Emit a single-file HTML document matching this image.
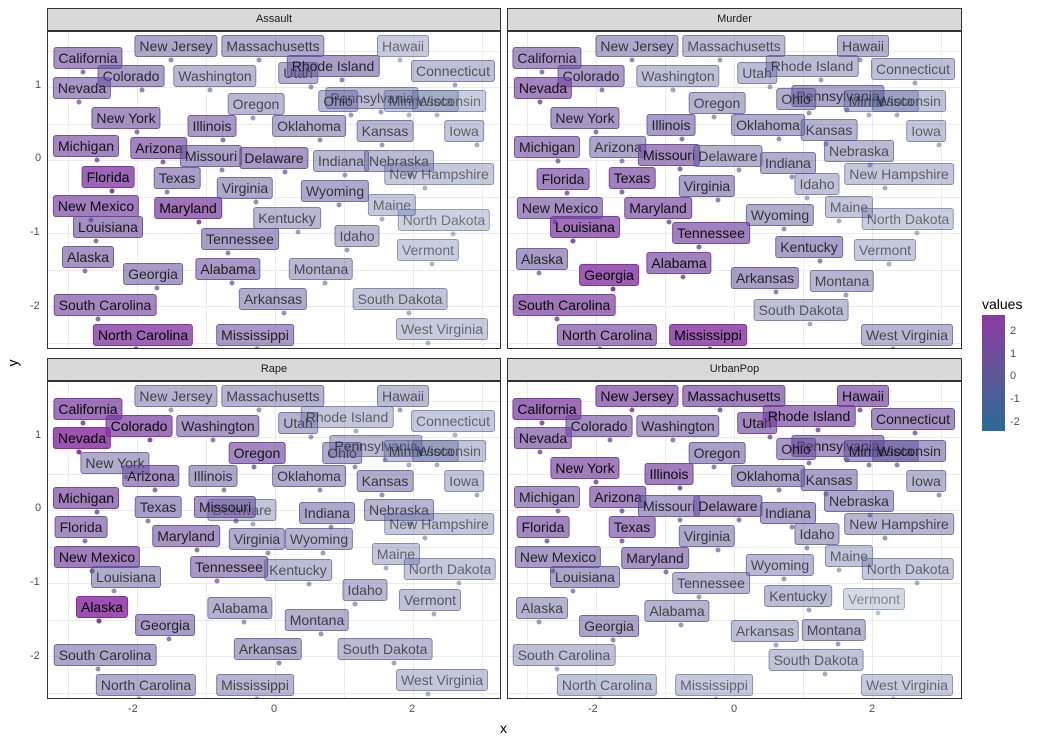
<!DOCTYPE html>
<html><head><meta charset="utf-8"><style>
body{margin:0;width:1038px;height:740px;background:#fff;position:relative;overflow:hidden;font-family:"Liberation Sans",sans-serif}
.p{position:absolute;border:1px solid #333;background:#fff;overflow:hidden}
.s{position:absolute;background:#d9d9d9;border:1px solid #333;font-size:11px;text-align:center;line-height:21px;color:#1a1a1a}
.l{position:absolute;height:20px;line-height:20px;font-size:14px;padding:0 4px;border-radius:3px;white-space:nowrap;transform:translate(-50%,-50%)}
.t{position:absolute;font-size:11px;color:#4d4d4d}
.g{position:absolute;background:#ebebeb}
.dot{position:absolute;width:5px;height:5px;border-radius:50%;transform:translate(-50%,-50%)}
</style></head><body>
<div id="root"></div>
<script>
const P=[
 {x:47,y:31,w:452,h:316,st:8,name:"Assault",d:[
 ["New Jersey",175,45,0],["Massachusetts",272,45,-0.3],["Hawaii",402,45,-1.5],["California",87,57,0.7],["Utah",297,72,-0.4],["Rhode Island",332,65,0.3],["Connecticut",452,70,-1],["Colorado",130,75,0.3],["Washington",214,75,-0.7],["Nevada",81,87,0.5],["Pennsylvania",371,97,-0.8],["Oregon",255,103,-0.7],["Ohio",337,100,-0.7],["Minnesota",420,100,-1.5],["Wisconsin",448,100,-1.6],["New York",125,117,0.7],["Illinois",211,125,0.5],["Oklahoma",308,125,-0.2],["Kansas",384,130,-0.6],["Iowa",463,130,-1.3],["Michigan",85,145,1.0],["Arizona",158,147,1.1],["Missouri",210,155,0.2],["Delaware",273,157,0.5],["Indiana",340,160,-0.7],["Nebraska",398,160,-0.8],["Florida",107,176,2],["Texas",176,177,0.3],["New Hampshire",438,173,-1.4],["Virginia",244,187,-0.1],["Wyoming",334,190,-0.1],["New Mexico",95,205,1.3],["Maryland",187,207,1.6],["Maine",391,204,-1.4],["North Dakota",443,219,-1.8],["Kentucky",286,217,-0.7],["Louisiana",107,226,0.8],["Idaho",356,235,-0.8],["Tennessee",239,238,0.3],["Vermont",427,249,-1.6],["Alaska",87,256,0.6],["Alabama",227,268,0.5],["Georgia",152,273,0.4],["Montana",320,268,-0.7],["Arkansas",272,298,-0.2],["South Dakota",399,298,-1.2],["South Carolina",104,304,1.0],["North Carolina",142,334,2],["Mississippi",254,334,0.5],["West Virginia",441,328,-1.5]]},
 {x:507,y:31,w:453,h:316,st:8,name:"Murder",d:[
 ["New Jersey",636,45,-0.1],["Massachusetts",733,45,-0.8],["Hawaii",862,45,-0.5],["California",546,57,0.6],["Utah",756,72,-0.9],["Rhode Island",811,65,-0.8],["Connecticut",912,68,-1],["Colorado",590,75,0.4],["Washington",677,75,-1],["Nevada",542,87,1.1],["Pennsylvania",837,95,0],["Oregon",716,102,-0.5],["Ohio",795,98,-0.3],["Minnesota",880,100,-1.3],["Wisconsin",908,100,-1.2],["New York",584,117,0.5],["Illinois",670,124,0.4],["Oklahoma",767,124,-0.2],["Kansas",828,129,-0.5],["Iowa",925,130,-1.3],["Michigan",546,146,0.8],["Arizona",617,146,0],["Missouri",668,154,0.9],["Delaware",727,155,-0.4],["Indiana",787,162,-0.3],["Nebraska",858,150,-0.8],["Florida",562,178,1.1],["Texas",631,177,1.2],["New Hampshire",898,173,-1.3],["Virginia",706,185,0.2],["Idaho",816,183,-1.1],["Wyoming",779,214,-0.2],["New Mexico",559,207,0.8],["Maryland",657,207,1.1],["Maine",848,206,-1.3],["North Dakota",907,218,-1.6],["Louisiana",584,226,1.7],["Tennessee",710,232,1.2],["Vermont",884,249,-1.4],["Kentucky",808,246,0.2],["Alaska",541,258,0.4],["Alabama",678,262,1.2],["Georgia",608,274,2.2],["Arkansas",764,277,0.3],["Montana",841,280,-0.6],["South Dakota",800,309,-1],["South Carolina",563,304,1.5],["North Carolina",606,334,1.1],["Mississippi",707,334,2.3],["West Virginia",906,334,-0.6]]},
 {x:47,y:381,w:452,h:316,st:358,name:"Rape",d:[
 ["New Jersey",175,395,-0.5],["Massachusetts",272,395,-0.5],["Hawaii",402,395,-0.9],["California",87,408,1.6],["Colorado",138,425,1.6],["Washington",217,425,0.5],["Utah",297,422,-0.5],["Rhode Island",346,416,-1.3],["Connecticut",452,420,-1.4],["Nevada",81,437,2.5],["New York",114,462,-0.2],["Oregon",256,452,1.0],["Ohio",341,452,-0.2],["Pennsylvania",375,445,-0.8],["Minnesota",420,450,-1.1],["Wisconsin",448,450,-1.2],["Arizona",150,475,0.7],["Illinois",212,475,0],["Oklahoma",308,475,-0.2],["Kansas",384,480,-0.2],["Iowa",463,480,-1.2],["Michigan",85,497,1.3],["Texas",157,506,0.3],["Delaware",241,509,-1.2],["Missouri",224,506,0.5],["Indiana",326,512,-0.1],["Nebraska",398,509,-0.6],["New Hampshire",438,523,-1.3],["Florida",80,526,0.8],["Maryland",185,535,0.6],["Virginia",256,538,-0.2],["Wyoming",318,538,-0.5],["Maine",395,553,-1.3],["New Mexico",96,556,1.3],["Tennessee",228,566,0.5],["Kentucky",297,569,-0.9],["North Dakota",449,568,-1.4],["Louisiana",125,576,-0.2],["Idaho",364,589,-0.7],["Alaska",101,606,2.6],["Alabama",239,607,-0.4],["Vermont",429,599,-1.1],["Georgia",164,624,0.4],["Montana",316,619,-0.4],["Arkansas",267,648,-0.2],["South Dakota",384,648,-0.8],["South Carolina",104,654,0],["North Carolina",145,684,-0.3],["Mississippi",254,684,-0.6],["West Virginia",441,679,-1.3]]},
 {x:507,y:381,w:453,h:316,st:358,name:"UrbanPop",d:[
 ["New Jersey",636,395,1.4],["Massachusetts",733,395,1.2],["Hawaii",862,395,1.2],["California",546,408,1.7],["Colorado",598,425,0.8],["Washington",677,425,0.4],["Utah",756,422,1.0],["Rhode Island",808,415,1.2],["Connecticut",912,418,0.8],["Nevada",542,437,1.0],["Oregon",716,452,0.3],["Pennsylvania",837,445,0.6],["Ohio",795,448,0.5],["Minnesota",880,450,0.2],["Wisconsin",908,450,0.2],["New York",584,467,1.3],["Illinois",668,473,1.3],["Oklahoma",767,475,0.2],["Kansas",828,479,0.1],["Iowa",925,480,-0.6],["Michigan",546,496,0.6],["Arizona",617,496,1.0],["Missouri",668,505,0.2],["Delaware",727,505,0.5],["Indiana",787,512,0.1],["Nebraska",858,500,-0.1],["Florida",542,526,1.0],["Texas",631,526,1.0],["New Hampshire",898,523,-0.6],["Virginia",706,535,-0.1],["Idaho",816,533,-0.4],["Wyoming",779,564,-0.7],["Maine",848,555,-1.2],["North Dakota",907,568,-1.4],["New Mexico",557,556,0.4],["Maryland",654,557,0.6],["Louisiana",584,576,0],["Tennessee",710,582,-0.6],["Kentucky",797,595,-0.9],["Vermont",873,598,-2.2],["Alaska",541,607,-0.5],["Alabama",676,610,-0.5],["Georgia",608,625,0.1],["Arkansas",764,630,-1],["Montana",833,629,-0.6],["South Dakota",815,659,-1.2],["South Carolina",563,654,-1],["North Carolina",606,684,-1.2],["Mississippi",713,684,-1.4],["West Virginia",906,684,-1.5]]}
];
function lerp(a,b,t){return a.map((v,i)=>Math.round(v+(b[i]-v)*t))}
function col(v){const lo=[75,105,145],mid=[92,82,150],hi=[135,45,160];
 v=Math.max(-2.5,Math.min(2.6,v));
 return v<0?lerp(mid,lo,-v/2.5):lerp(mid,hi,v/2.5)}
let h="";
const xt=[[-2,135],[0,274],[2,412]],yt=[[1,86],[0,159],[-1,233],[-2,307]];
P.forEach((p,i)=>{
 h+=`<div class="s" style="left:${p.x}px;top:${p.st}px;width:${p.w}px;height:21px">${p.name}</div>`;
 h+=`<div class="p" style="left:${p.x}px;top:${p.y}px;width:${p.w}px;height:${p.h}px">`;
 [-3,-2,-1,0,1,2,3].forEach(v=>{const X=274+v*69-47;h+=`<div class="g" style="left:${X+(i%2?-1:0)}px;top:0;width:${v%2?0.5:1}px;height:316px"></div>`});
 [1.5,1,0.5,0,-0.5,-1,-1.5,-2,-2.5].forEach(v=>{const Y=159-v*73-31;h+=`<div class="g" style="top:${Y}px;left:0;height:${(v*2)%2?0.5:1}px;width:460px"></div>`});
 p.d.forEach(d=>{const c=col(d[3]);const a=Math.max(0.18,Math.min(0.92,0.2+0.62*(d[3]+2.5)/5));
  const ta=Math.max(0.3,Math.min(1,0.35+0.6*(d[3]+2.5)/4));
  h+=`<div class="dot" style="left:${d[1]-p.x+((d[0].length*7)%30-15)}px;top:${d[2]-p.y+14}px;background:rgba(${c},${Math.min(1,a+0.15)})"></div>`;
  h+=`<div class="l" style="left:${d[1]-p.x}px;top:${d[2]-p.y}px;background:rgba(${c},${a});border:1px solid rgba(${c},${Math.min(1,a+0.2)});color:rgba(0,0,0,${ta})">${d[0]}</div>`});
 h+="</div>";
 const yo2=i>1?350:0;
 if(i%2==0) yt.forEach(t=>h+=`<div class="t" style="left:${t[0]<0?30:35}px;top:${t[1]+yo2-7}px">${t[0]<0?"-"+(-t[0]):t[0]}</div>`);
 if(i>1) xt.forEach(t=>h+=`<div class="t" style="left:${t[1]+(i%2?460:0)-(t[0]<0?7:3)}px;top:703px">${t[0]<0?"-"+(-t[0]):t[0]}</div>`);
});
h+=`<div style="position:absolute;left:500px;top:720px;font-size:14px">x</div>`;
h+=`<div style="position:absolute;left:9px;top:355px;font-size:14px;transform:rotate(-90deg)">y</div>`;
h+=`<div style="position:absolute;left:982px;top:296px;font-size:14px">values</div>`;
h+=`<div style="position:absolute;left:982px;top:315px;width:23px;height:116px;background:linear-gradient(#8c3aa5,#5c5898 54%,#2a6a96)"></div>`;
[[2,332],[1,355],[0,377],[-1,400],[-2,423]].forEach(t=>h+=`<div class="t" style="left:1010px;top:${t[1]-7}px">${t[0]<0?"-"+(-t[0]):t[0]}</div>`);
document.getElementById("root").innerHTML=h;
</script>
</body></html>
